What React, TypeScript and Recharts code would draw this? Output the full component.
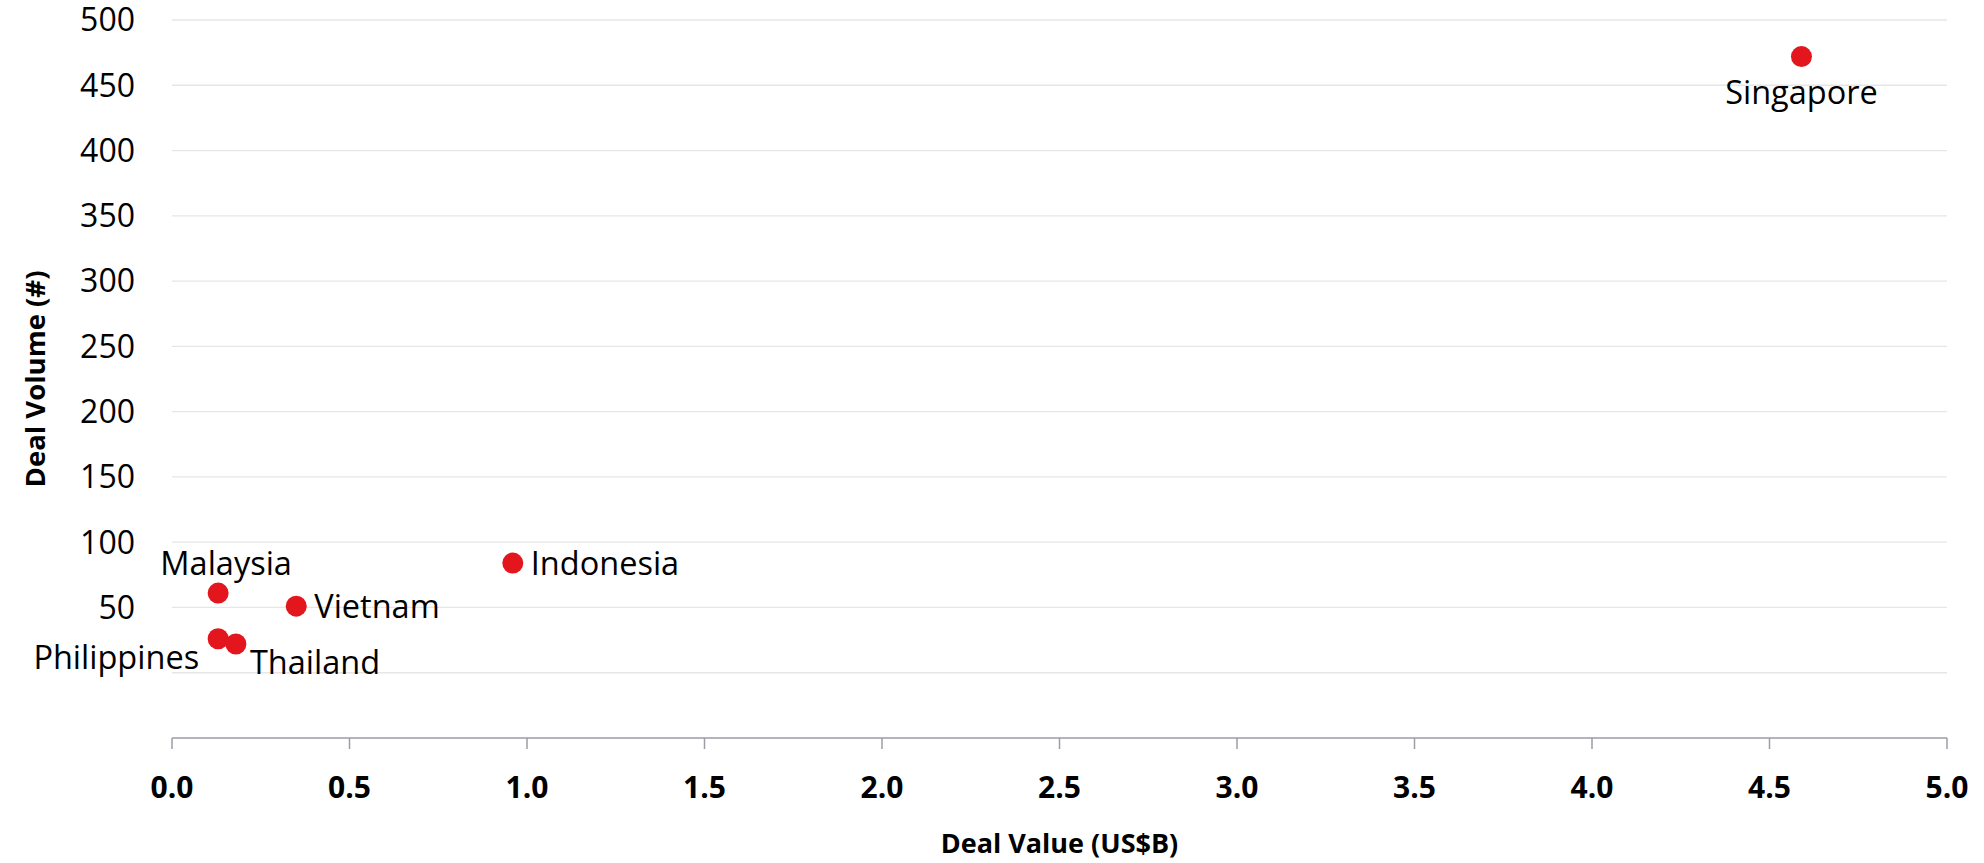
import React from 'react';
import {
  ScatterChart,
  Scatter,
  XAxis,
  YAxis,
  CartesianGrid,
  Label,
} from 'recharts';

const countries = ['Singapore', 'Indonesia', 'Vietnam', 'Malaysia', 'Philippines', 'Thailand'];
const dealValue = [4.59, 0.96, 0.35, 0.13, 0.13, 0.18];
const dealVolume = [472, 84, 51, 61, 26, 22];

const xTicks = [0, 0.5, 1, 1.5, 2, 2.5, 3, 3.5, 4, 4.5, 5];
const yTicks = [-50, 0, 50, 100, 150, 200, 250, 300, 350, 400, 450, 500];

// where each country's label sits relative to its dot
const labelSide: Record<string, string> = {
  Singapore: 'below',
  Indonesia: 'right',
  Vietnam: 'right',
  Malaysia: 'above',
  Philippines: 'belowLeft',
  Thailand: 'belowRight',
};

const points = countries.map((name, i) => ({
  name,
  value: dealValue[i],
  volume: dealVolume[i],
}));

const FONT = '"Open Sans", "Noto Sans", sans-serif';
const RED = '#e3151d';

const Dot = (props: any) => {
  const { cx, cy, payload } = props;
  const side = labelSide[payload.name];
  let x = cx;
  let y = cy;
  let anchor: 'start' | 'middle' | 'end' = 'middle';
  if (side === 'below') { y = cy + 36; }
  if (side === 'above') { y = cy - 30; x = cx + 8; }
  if (side === 'right') { x = cx + 18; anchor = 'start'; }
  if (side === 'belowLeft') { x = cx - 19; y = cy + 19; anchor = 'end'; }
  if (side === 'belowRight') { x = cx + 14; y = cy + 18; anchor = 'start'; }
  return (
    <g>
      <circle cx={cx} cy={cy} r={10.5} fill={RED} />
      <text
        x={x}
        y={y}
        dy="0.36em"
        textAnchor={anchor}
        fontFamily={FONT}
        fontSize={32.5}
        fill="#000"
      >
        {payload.name}
      </text>
    </g>
  );
};

const YTitle = (props: any) => {
  const { viewBox } = props;
  const cy = viewBox.y + viewBox.height / 2;
  return (
    <text
      x={34}
      y={cy}
      transform={`rotate(-90, 34, ${cy})`}
      textAnchor="middle"
      dominantBaseline="central"
      fontFamily={FONT}
      fontWeight="bold"
      fontSize={27.5}
      fill="#000"
    >
      Deal Volume (#)
    </text>
  );
};

export default function App() {
  return (
    <div style={{ position: 'absolute', left: 0, top: 0, background: '#fff' }}>
      <ScatterChart
        width={1984}
        height={863}
        margin={{ top: 20, right: 37, bottom: 0, left: 0 }}
      >
        <CartesianGrid vertical={false} stroke="#e6e6e6" strokeWidth={1.3} />
        <XAxis
          type="number"
          dataKey="value"
          domain={[0, 5]}
          ticks={xTicks}
          height={125}
          tickFormatter={(v: number) => v.toFixed(1)}
          axisLine={{ stroke: '#b4b4bb', strokeWidth: 2 }}
          tickLine={{ stroke: '#9d9da6', strokeWidth: 1.5 }}
          tickSize={11}
          tickMargin={28}
          tick={{ fontFamily: FONT, fontWeight: 'bold', fontSize: 30, fill: '#000' }}
        >
          <Label
            value="Deal Value (US$B)"
            position="insideBottom"
            offset={10}
            style={{ fontFamily: FONT, fontWeight: 'bold', fontSize: 27, fill: '#000' }}
          />
        </XAxis>
        <YAxis
          type="number"
          dataKey="volume"
          domain={[-50, 500]}
          ticks={yTicks}
          width={172}
          axisLine={false}
          tickLine={false}
          tickSize={6}
          tickMargin={31}
          tickFormatter={(v: number) => (v <= 0 ? '' : String(v))}
          tick={{ fontFamily: FONT, fontSize: 32, fill: '#000' }}
        >
          <Label content={<YTitle />} />
        </YAxis>
        <Scatter data={points} shape={<Dot />} isAnimationActive={false} />
      </ScatterChart>
    </div>
  );
}
